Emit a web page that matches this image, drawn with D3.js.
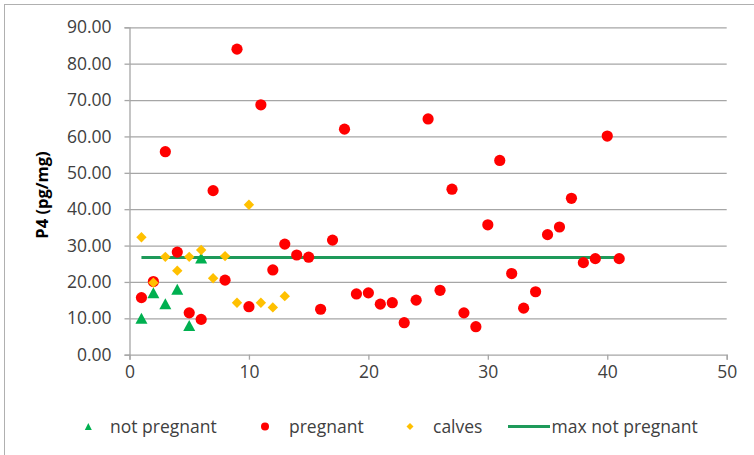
<!DOCTYPE html>
<html>
<head>
<meta charset="utf-8">
<script src="https://cdn.jsdelivr.net/npm/d3@7"></script>
<style>
  html, body { margin: 0; padding: 0; background: #fff; }
  svg text { font-family: "Open Sans", "Noto Sans", sans-serif; fill: #404040; }
</style>
</head>
<body>
<svg id="chart" width="754" height="455"></svg>
<script>
// P4 concentration per sample, grouped by animal status
const notPregnantX = [1, 2, 3, 4, 5, 6];
const notPregnantY = [10.0, 17.0, 14.0, 18.0, 8.0, 26.6];

const pregnantX = [1, 2, 3, 4, 5, 6, 7, 8, 9, 10, 11, 12, 13, 14, 15, 16, 17, 18, 19, 20, 21,
                   22, 23, 24, 25, 26, 27, 28, 29, 30, 31, 32, 33, 34, 35, 36, 37, 38, 39, 40, 41];
const pregnantY = [15.7, 20.1, 55.8, 28.2, 11.5, 9.7, 45.1, 20.5, 84.0, 13.2, 68.7, 23.3, 30.4,
                   27.4, 26.8, 12.5, 31.5, 62.0, 16.7, 17.0, 13.9, 14.3, 8.8, 15.0, 64.8, 17.7,
                   45.5, 11.5, 7.7, 35.7, 53.4, 22.3, 12.8, 17.3, 33.0, 35.1, 43.0, 25.3, 26.4,
                   60.1, 26.4];

const calvesX = [1, 2, 3, 4, 5, 6, 7, 8, 9, 10, 11, 12, 13];
const calvesY = [32.3, 19.8, 26.9, 23.1, 26.9, 28.8, 21.0, 27.1, 14.3, 41.2, 14.3, 13.0, 16.1];

// Reference line: highest value among non-pregnant animals
const maxLineX = [1, 41];
const maxLineY = [26.7, 26.7];

const xTicks = [0, 10, 20, 30, 40, 50];
const yTicks = [0, 10, 20, 30, 40, 50, 60, 70, 80, 90];

const seriesNames = ["not pregnant", "pregnant", "calves", "max not pregnant"];

const colors = { green: "#00B050", red: "#FF0000", gold: "#FFC000", line: "#1E9A5A", grid: "#A6A6A6" };

const svg = d3.select("#chart");

// Chart frame
svg.append("rect")
  .attr("x", 4.5).attr("y", 4.5)
  .attr("width", 800).attr("height", 500)
  .attr("fill", "none").attr("stroke", "#B0B0B0").attr("stroke-width", 1);

const plotLeft = 129.5, plotRight = 726.7, plotTop = 27.3, plotBottom = 354.7;

const x = d3.scaleLinear().domain([0, 50]).range([plotLeft, plotRight]);
const y = d3.scaleLinear().domain([0, 90]).range([plotBottom, plotTop]);

// Horizontal gridlines
const grid = svg.append("g")
  .attr("transform", `translate(${plotLeft},0)`)
  .call(d3.axisLeft(y).tickValues(yTicks.slice(1)).tickSize(-(plotRight - plotLeft)).tickFormat(""));
grid.select(".domain").remove();
grid.selectAll(".tick line").attr("stroke", colors.grid).attr("stroke-width", 1.3);

// Y axis
const yAxis = svg.append("g")
  .attr("transform", `translate(${plotLeft},0)`)
  .call(d3.axisLeft(y).tickValues(yTicks).tickSize(5).tickPadding(13).tickFormat(d3.format(".2f")));
yAxis.select(".domain").attr("stroke", colors.grid).attr("stroke-width", 1.3);
yAxis.selectAll(".tick line").attr("stroke", colors.grid).attr("stroke-width", 1.3);
yAxis.selectAll(".tick text").style("font-size", "17.5px").attr("fill", "#404040");

// X axis
const xAxis = svg.append("g")
  .attr("transform", `translate(0,${plotBottom})`)
  .call(d3.axisBottom(x).tickValues(xTicks).tickSize(5).tickPadding(6).tickFormat(d3.format("d")));
xAxis.select(".domain").attr("stroke", colors.grid).attr("stroke-width", 1.3);
xAxis.selectAll(".tick line").attr("stroke", colors.grid).attr("stroke-width", 1.3);
xAxis.selectAll(".tick text").style("font-size", "17.5px").attr("fill", "#404040");

// Y axis title
svg.append("text")
  .attr("transform", `translate(48,${(plotTop + plotBottom) / 2 + 4}) rotate(-90)`)
  .attr("text-anchor", "middle")
  .style("font-size", "16.5px").style("font-weight", "bold").style("fill", "#000")
  .text("P4 (pg/mg)");

// Max-not-pregnant reference line
const lineData = maxLineX.map((d, i) => [d, maxLineY[i]]);
svg.append("path")
  .datum(lineData)
  .attr("d", d3.line().x(d => x(d[0])).y(d => y(d[1])))
  .attr("stroke", colors.line).attr("stroke-width", 3).attr("fill", "none");

// Diamond helper: square rotated by 45 degrees
const diamondPath = (r) => `M0,${-r}L${r},0L0,${r}L${-r},0Z`;
// Triangle helper centred on its bounding box
const trianglePath = (w, h) => `M0,${-h / 2}L${w / 2},${h / 2}L${-w / 2},${h / 2}Z`;

// Not pregnant
svg.append("g").selectAll("path")
  .data(notPregnantX.map((d, i) => [d, notPregnantY[i]]))
  .join("path")
  .attr("transform", d => `translate(${x(d[0])},${y(d[1])})`)
  .attr("d", trianglePath(12, 11))
  .attr("fill", colors.green);

// Pregnant
svg.append("g").selectAll("circle")
  .data(pregnantX.map((d, i) => [d, pregnantY[i]]))
  .join("circle")
  .attr("cx", d => x(d[0])).attr("cy", d => y(d[1]))
  .attr("r", 5.6)
  .attr("fill", colors.red);

// Calves
svg.append("g").selectAll("path")
  .data(calvesX.map((d, i) => [d, calvesY[i]]))
  .join("path")
  .attr("transform", d => `translate(${x(d[0])},${y(d[1])})`)
  .attr("d", diamondPath(5.2))
  .attr("fill", colors.gold);

// Legend
const legendY = 426.5;
const legend = svg.append("g");
const legendItems = [
  { name: seriesNames[0], mx: 88.3, tx: 110, draw: g => g.append("path").attr("d", trianglePath(7, 7)).attr("fill", colors.green) },
  { name: seriesNames[1], mx: 265, tx: 289, draw: g => g.append("circle").attr("r", 4).attr("fill", colors.red) },
  { name: seriesNames[2], mx: 410, tx: 433, draw: g => g.append("path").attr("d", diamondPath(3.5)).attr("fill", colors.gold) },
  { name: seriesNames[3], mx: 529, tx: 551.5, draw: g => g.append("line").attr("x1", -21).attr("x2", 21).attr("stroke", colors.line).attr("stroke-width", 3) }
];
legendItems.forEach(item => {
  const m = legend.append("g").attr("transform", `translate(${item.mx},${legendY})`);
  item.draw(m);
  legend.append("text")
    .attr("x", item.tx).attr("y", legendY)
    .attr("dy", "0.35em")
    .style("font-size", "17.5px")
    .text(item.name);
});
</script>
</body>
</html>
